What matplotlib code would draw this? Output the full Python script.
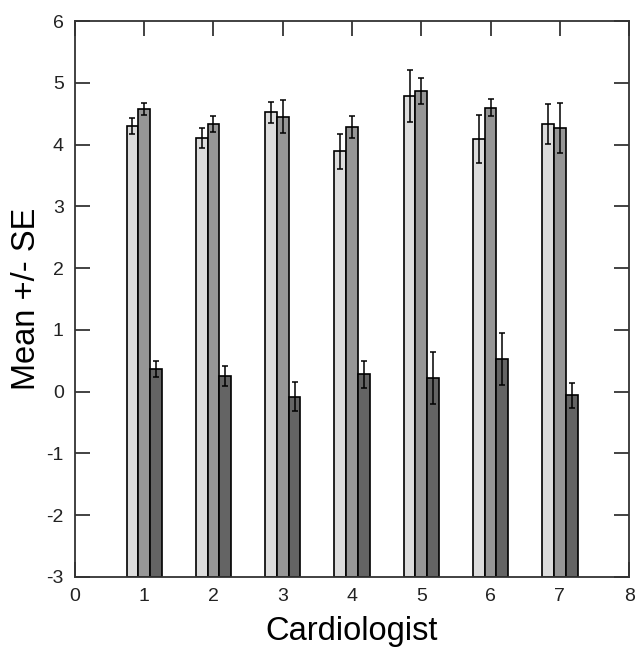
import numpy as np
import matplotlib
matplotlib.use('Agg')
import matplotlib.pyplot as plt

plt.rcParams['font.family'] = ['Liberation Sans', 'DejaVu Sans']
plt.rcParams['axes.unicode_minus'] = False

# datos
cardiologos = [1, 2, 3, 4, 5, 6, 7]
media_a = [4.30, 4.11, 4.52, 3.89, 4.78, 4.09, 4.33]
se_a = [0.13, 0.16, 0.17, 0.28, 0.42, 0.39, 0.32]
media_b = [4.58, 4.33, 4.45, 4.28, 4.86, 4.60, 4.27]
se_b = [0.10, 0.13, 0.27, 0.18, 0.21, 0.14, 0.41]
media_c = [0.36, 0.25, -0.08, 0.28, 0.22, 0.53, -0.06]
se_c = [0.13, 0.16, 0.24, 0.22, 0.42, 0.42, 0.20]

series = [(media_a, se_a, '#dcdcdc'), (media_b, se_b, '#969696'), (media_c, se_c, '#646464')]
offsets = [-0.17, 0.0, 0.17]
ancho = 0.17
base = -3

fig = plt.figure(figsize=(6.35, 6.51), dpi=100)
ax = fig.add_axes([0.118, 0.1137, 0.8728, 0.854])

x = np.array(cardiologos)
for (m, se, col), off in zip(series, offsets):
    alturas = np.array(m) - base
    ax.bar(x + off, alturas, width=ancho, bottom=base, color=col,
           edgecolor='black', linewidth=1.2, zorder=2)
    ax.errorbar(x + off, m, yerr=se, fmt='none', ecolor='black',
                elinewidth=1.1, capsize=2, capthick=1.1, zorder=3)

ax.set_xlim(0, 8)
ax.set_ylim(-3, 6)
ax.set_xticks(range(0, 9))
ax.set_yticks(range(-3, 7))
ax.tick_params(direction='in', length=11, width=1.2, top=True, right=True,
               labelsize=14, pad=8, colors='#222222')
for s in ax.spines.values():
    s.set_linewidth(1.3)
    s.set_color('#333333')

ax.set_xlabel('Cardiologist', fontsize=23.5, labelpad=8)
ax.set_ylabel('Mean +/- SE', fontsize=23.5, labelpad=3)

plt.savefig('out.png', dpi=100)
